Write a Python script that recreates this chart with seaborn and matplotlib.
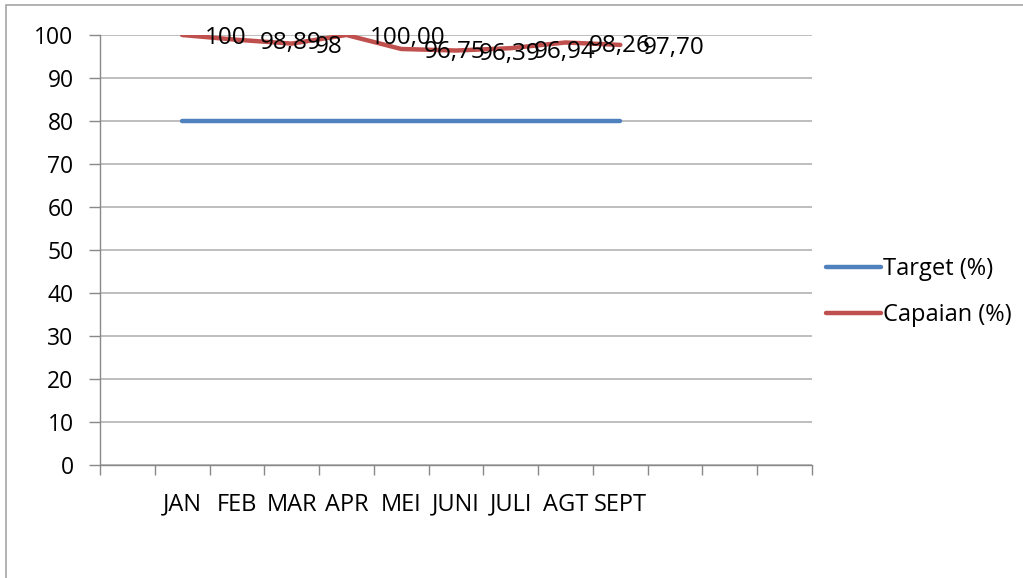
import matplotlib
matplotlib.use("Agg")
import matplotlib.pyplot as plt
import seaborn as sns
import pandas as pd
import numpy as np
from matplotlib.lines import Line2D
from matplotlib.patches import Rectangle

categories = ["", "JAN", "FEB", "MAR", "APR", "MEI", "JUNI", "JULI", "AGT", "SEPT", "", "", ""]
months = ["JAN", "FEB", "MAR", "APR", "MEI", "JUNI", "JULI", "AGT", "SEPT"]
target = [80, 80, 80, 80, 80, 80, 80, 80, 80]
capaian = [100, 98.89, 98, 100, 96.75, 96.39, 96.94, 98.26, 97.70]
capaian_labels = ["100", "98,89", "98", "100,00", "96,75", "96,39", "96,94", "98,26", "97,70"]
series_names = ["Target (%)", "Capaian (%)"]
colors = ["#4F81BD", "#C0504D"]

pos = [categories.index(m) for m in months]
df = pd.concat([
    pd.DataFrame({"pos": pos, "value": target, "series": series_names[0]}),
    pd.DataFrame({"pos": pos, "value": capaian, "series": series_names[1]}),
])

sns.set_theme(style="white")
plt.rcParams["font.family"] = ["Open Sans", "DejaVu Sans"]

fig = plt.figure(figsize=(10.23, 5.78), dpi=100)
ax = fig.add_axes([100/1023, 1-465/578, (812-100)/1023, (465-35)/578])

sns.lineplot(data=df, x="pos", y="value", hue="series", palette=colors,
             linewidth=3.2, ax=ax, legend=False, sort=False)

for x, y, lab in zip(pos, capaian, capaian_labels):
    ax.annotate(lab, (x, y), xytext=(16.5, -2.5), textcoords="offset points",
                ha="left", va="center", fontsize=17.5, color="black",
                annotation_clip=False)

ax.set_xlim(-0.5, len(categories) - 0.5)
ax.set_ylim(0, 100)
ax.set_yticks(np.arange(0, 101, 10))
ax.set_xticks(pos)
ax.set_xticklabels(months, fontsize=17, color="black")
ax.set_xticks(np.arange(-0.5, len(categories), 1.0), minor=True)
ax.tick_params(axis="x", which="major", length=0, pad=20, labelcolor="black")
ax.tick_params(axis="x", which="minor", length=7, color="#898989", width=1, direction="out", bottom=True)
ax.tick_params(axis="y", length=8, color="#898989", width=1, direction="out", left=True,
               labelsize=16.5, pad=11, labelcolor="black")
ax.set_xlabel("")
ax.set_ylabel("")
ax.grid(axis="y", color="#b3b3b3", linewidth=1.2)
ax.grid(axis="x", visible=False)
ax.set_axisbelow(True)
for s in ["top", "right"]:
    ax.spines[s].set_visible(False)
for s in ["left", "bottom"]:
    ax.spines[s].set_color("#898989")
    ax.spines[s].set_linewidth(1)

handles = [Line2D([0], [0], color=c, linewidth=3.2) for c in colors]
leg = fig.legend(handles, series_names, loc="center left",
                 bbox_to_anchor=(805/1023, 1-292/578), frameon=False,
                 fontsize=17, handlelength=2.3, handletextpad=0.1, labelspacing=0.95)
for t in leg.get_texts():
    t.set_color("black")

fig.patches.append(Rectangle((6/1023, -0.1), 1.2, 1.1 - 5/578, transform=fig.transFigure,
                             fill=False, edgecolor="#a6a6a6", linewidth=1.2))

fig.savefig("out.png", dpi=100)
